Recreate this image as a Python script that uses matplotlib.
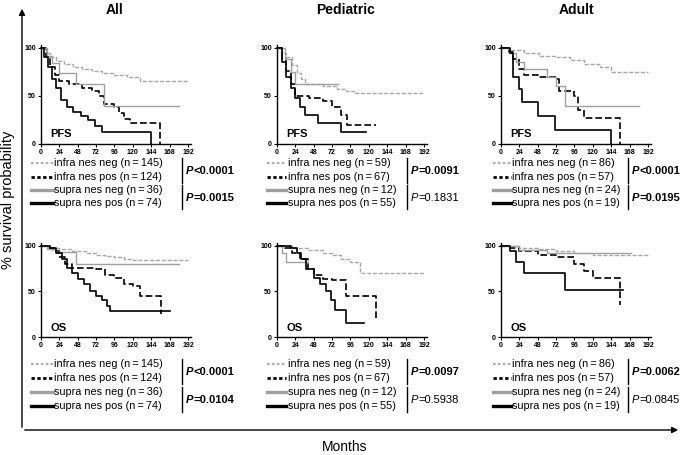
import matplotlib
matplotlib.use('Agg')
import matplotlib.pyplot as plt
from matplotlib.lines import Line2D
from matplotlib.patches import FancyArrowPatch

plt.rcParams['font.family'] = ['Liberation Sans', 'DejaVu Sans']

W, H = 683, 455

# ---- survival curves (month, % survival), step after each point ----
# All - PFS
all_pfs_in_neg_t = [0, 6, 12, 20, 30, 42, 54, 66, 80, 96, 112, 130, 192]
all_pfs_in_neg_s = [100, 95, 90, 86, 83, 80, 78, 76, 74, 72, 70, 66, 66]
all_pfs_in_pos_t = [0, 6, 12, 18, 24, 36, 54, 66, 76, 82, 96, 102, 108, 116, 156]
all_pfs_in_pos_s = [100, 90, 80, 72, 66, 62, 58, 55, 50, 42, 38, 32, 26, 22, 0]
all_pfs_su_neg_t = [0, 8, 14, 24, 46, 82, 180]
all_pfs_su_neg_s = [100, 92, 84, 74, 62, 40, 40]
all_pfs_su_pos_t = [0, 4, 9, 14, 20, 26, 34, 42, 52, 62, 70, 80, 144]
all_pfs_su_pos_s = [100, 90, 80, 68, 58, 46, 38, 33, 29, 25, 19, 13, 0]

# Pediatric - PFS
ped_pfs_in_neg_t = [0, 6, 12, 20, 26, 32, 36, 60, 78, 90, 100, 192]
ped_pfs_in_neg_s = [100, 95, 90, 82, 74, 68, 62, 60, 57, 55, 53, 53]
ped_pfs_in_pos_t = [0, 6, 12, 18, 24, 42, 60, 72, 84, 92, 130]
ped_pfs_in_pos_s = [100, 88, 76, 62, 50, 48, 45, 38, 30, 20, 20]
ped_pfs_su_neg_t = [0, 10, 18, 24, 80]
ped_pfs_su_neg_s = [100, 88, 75, 62, 62]
ped_pfs_su_pos_t = [0, 6, 12, 18, 24, 30, 36, 54, 84, 116]
ped_pfs_su_pos_s = [100, 85, 70, 58, 48, 38, 30, 22, 12, 12]

# Adult - PFS
adu_pfs_in_neg_t = [0, 12, 30, 50, 72, 90, 108, 130, 144, 192]
adu_pfs_in_neg_s = [100, 98, 95, 92, 90, 87, 83, 80, 75, 75]
adu_pfs_in_pos_t = [0, 10, 16, 24, 30, 48, 72, 76, 96, 100, 108, 156]
adu_pfs_in_pos_s = [100, 96, 88, 78, 72, 70, 68, 55, 50, 35, 27, 0]
adu_pfs_su_neg_t = [0, 10, 20, 30, 60, 72, 84, 180]
adu_pfs_su_neg_s = [100, 95, 85, 78, 70, 60, 40, 40]
adu_pfs_su_pos_t = [0, 12, 16, 24, 28, 48, 70, 144]
adu_pfs_su_pos_s = [100, 95, 70, 57, 44, 29, 15, 0]

# All - OS
all_os_in_neg_t = [0, 12, 24, 40, 60, 72, 84, 96, 108, 120, 192]
all_os_in_neg_s = [100, 98, 96, 94, 92, 90, 89, 88, 86, 84, 84]
all_os_in_pos_t = [0, 8, 16, 24, 32, 40, 72, 84, 96, 108, 120, 130, 157]
all_os_in_pos_s = [100, 98, 94, 88, 80, 76, 74, 68, 65, 58, 56, 45, 25]
all_os_su_neg_t = [0, 8, 20, 46, 180]
all_os_su_neg_s = [100, 96, 93, 80, 80]
all_os_su_pos_t = [0, 12, 20, 28, 34, 40, 48, 56, 64, 72, 80, 86, 90, 168]
all_os_su_pos_s = [100, 97, 92, 85, 76, 70, 64, 58, 50, 45, 40, 34, 28, 28]

# Pediatric - OS
ped_os_in_neg_t = [0, 20, 40, 60, 72, 84, 96, 108, 192]
ped_os_in_neg_s = [100, 97, 95, 92, 90, 86, 82, 70, 70]
ped_os_in_pos_t = [0, 10, 20, 30, 40, 48, 60, 72, 90, 129]
ped_os_in_pos_s = [100, 97, 92, 85, 75, 68, 64, 62, 45, 20]
ped_os_su_neg_t = [0, 6, 12, 40]
ped_os_su_neg_s = [100, 92, 82, 82]
ped_os_su_pos_t = [0, 18, 26, 32, 38, 48, 56, 64, 70, 76, 90, 114]
ped_os_su_pos_s = [100, 97, 92, 85, 74, 65, 58, 50, 40, 30, 15, 15]

# Adult - OS
adu_os_in_neg_t = [0, 24, 48, 72, 96, 120, 192]
adu_os_in_neg_s = [100, 98, 96, 94, 92, 90, 90]
adu_os_in_pos_t = [0, 12, 24, 48, 72, 96, 108, 120, 156]
adu_os_in_pos_s = [100, 97, 94, 90, 88, 80, 72, 65, 35]
adu_os_su_neg_t = [0, 24, 60, 170]
adu_os_su_neg_s = [100, 95, 92, 92]
adu_os_su_pos_t = [0, 12, 20, 30, 84, 160]
adu_os_su_pos_s = [100, 94, 82, 70, 52, 52]

col_titles = ['All', 'Pediatric', 'Adult']
row_labels = ['PFS', 'OS']
group_names = ['infra nes neg', 'infra nes pos', 'supra nes neg', 'supra nes pos']
n_all = [145, 124, 36, 74]
n_ped = [59, 67, 12, 55]
n_adu = [86, 57, 24, 19]

# p values: (text after "P", bold) for infra pair and supra pair
p_pfs = [[('<0.0001', True), ('=0.0015', True)],
         [('=0.0091', True), ('=0.1831', False)],
         [('<0.0001', True), ('=0.0195', True)]]
p_os = [[('<0.0001', True), ('=0.0104', True)],
        [('=0.0097', True), ('=0.5938', False)],
        [('=0.0062', True), ('=0.0845', False)]]

curves = [
    [[(all_pfs_in_neg_t, all_pfs_in_neg_s), (all_pfs_in_pos_t, all_pfs_in_pos_s),
      (all_pfs_su_neg_t, all_pfs_su_neg_s), (all_pfs_su_pos_t, all_pfs_su_pos_s)],
     [(ped_pfs_in_neg_t, ped_pfs_in_neg_s), (ped_pfs_in_pos_t, ped_pfs_in_pos_s),
      (ped_pfs_su_neg_t, ped_pfs_su_neg_s), (ped_pfs_su_pos_t, ped_pfs_su_pos_s)],
     [(adu_pfs_in_neg_t, adu_pfs_in_neg_s), (adu_pfs_in_pos_t, adu_pfs_in_pos_s),
      (adu_pfs_su_neg_t, adu_pfs_su_neg_s), (adu_pfs_su_pos_t, adu_pfs_su_pos_s)]],
    [[(all_os_in_neg_t, all_os_in_neg_s), (all_os_in_pos_t, all_os_in_pos_s),
      (all_os_su_neg_t, all_os_su_neg_s), (all_os_su_pos_t, all_os_su_pos_s)],
     [(ped_os_in_neg_t, ped_os_in_neg_s), (ped_os_in_pos_t, ped_os_in_pos_s),
      (ped_os_su_neg_t, ped_os_su_neg_s), (ped_os_su_pos_t, ped_os_su_pos_s)],
     [(adu_os_in_neg_t, adu_os_in_neg_s), (adu_os_in_pos_t, adu_os_in_pos_s),
      (adu_os_su_neg_t, adu_os_su_neg_s), (adu_os_su_pos_t, adu_os_su_pos_s)]],
]
n_cols = [n_all, n_ped, n_adu]
p_rows = [p_pfs, p_os]

# plot styles for the curves and the legend samples
curve_styles = [
    dict(color='#a8a8a8', lw=1.0, dashes=(3, 1.2)),
    dict(color='black', lw=1.2, dashes=(4, 1.8)),
    dict(color='#a0a0a0', lw=1.0, linestyle='-'),
    dict(color='black', lw=1.2, linestyle='-'),
]
legend_styles = [
    dict(color='#b0b0b0', lw=1.6, dashes=(1.2, 1.0)),
    dict(color='black', lw=2.0, dashes=(1.2, 0.9)),
    dict(color='#a0a0a0', lw=2.4, linestyle='-'),
    dict(color='black', lw=2.4, linestyle='-'),
]

fig = plt.figure(figsize=(W / 100, H / 100), dpi=100)
renderer = fig.canvas.get_renderer()


def fx(x):
    return x / W


def fy(y):
    return 1 - y / H


ax_left = [41, 277, 501]
ax_w = 150
row_box = [(45, 144), (243, 337)]  # top, bottom pixel of axes
legend_rows = [[163, 176.5, 190, 203.5], [364, 378, 392, 406]]
leg_line_x = [(31, 53), (267, 286), (493, 511)]
p_bar_x = [182, 407, 628]
title_x = [115, 345, 576]

for r in range(2):
    top, bot = row_box[r]
    for c in range(3):
        ax = fig.add_axes([fx(ax_left[c]), fy(bot), ax_w / W, (bot - top) / H])
        for (t, s), st in zip(curves[r][c], curve_styles):
            ax.step(t, s, where='post', clip_on=False, **st)
        ax.set_xlim(0, 196)
        ax.set_ylim(0, 103)
        ax.set_xticks(range(0, 193, 24))
        ax.set_yticks([0, 50, 100])
        ax.tick_params(labelsize=5, length=2.5, width=0.8, pad=1.2)
        for lab in ax.get_xticklabels() + ax.get_yticklabels():
            lab.set_fontweight('bold')
        for sp in ['top', 'right']:
            ax.spines[sp].set_visible(False)
        for sp in ['left', 'bottom']:
            ax.spines[sp].set_linewidth(1.0)
        ax.text(12, 7, row_labels[r], fontsize=8, fontweight='bold')

        # legend block
        x0, x1 = leg_line_x[c]
        for k in range(4):
            y = legend_rows[r][k]
            fig.add_artist(Line2D([fx(x0), fx(x1)], [fy(y), fy(y)],
                                  transform=fig.transFigure, **legend_styles[k]))
            fig.text(fx(x1 + 1.5), fy(y), f'{group_names[k]} (n\u2009=\u2009{n_cols[c][k]})',
                     fontsize=7.8, va='center', ha='left')

        # p values
        for j in range(2):
            ya, yb = legend_rows[r][2 * j], legend_rows[r][2 * j + 1]
            bx = p_bar_x[c]
            fig.add_artist(Line2D([fx(bx), fx(bx)], [fy(ya - 5), fy(yb + 6)],
                                  transform=fig.transFigure, color='black', lw=1.0))
            txt, bold = p_rows[r][c][j]
            w = 'bold' if bold else 'normal'
            ym = fy((ya + yb) / 2 + 1)
            tp = fig.text(fx(bx + 4), ym, 'P', fontsize=8.0, fontweight=w, fontstyle='italic',
                          va='center', ha='left')
            ext = tp.get_window_extent(renderer)
            fig.text(ext.x1 / W, ym, txt, fontsize=8.0, fontweight=w,
                     va='center', ha='left')

# column titles
for c, title in enumerate(col_titles):
    fig.text(fx(title_x[c]), fy(10), title, fontsize=10, fontweight='bold',
             ha='center', va='center')

# big axis arrows
fig.add_artist(FancyArrowPatch((fx(22), fy(430)), (fx(22), fy(6)), transform=fig.transFigure,
                               arrowstyle='-|>', mutation_scale=9, lw=1.0, color='black'))
fig.add_artist(FancyArrowPatch((fx(22), fy(430)), (fx(681), fy(430)), transform=fig.transFigure,
                               arrowstyle='-|>', mutation_scale=9, lw=1.0, color='black'))
fig.text(fx(8), fy(200), '% survival probability', rotation=90, fontsize=10.5,
         ha='center', va='center')
fig.text(fx(345), fy(447), 'Months', fontsize=10, ha='center', va='center')

fig.savefig('out.png', dpi=100)
